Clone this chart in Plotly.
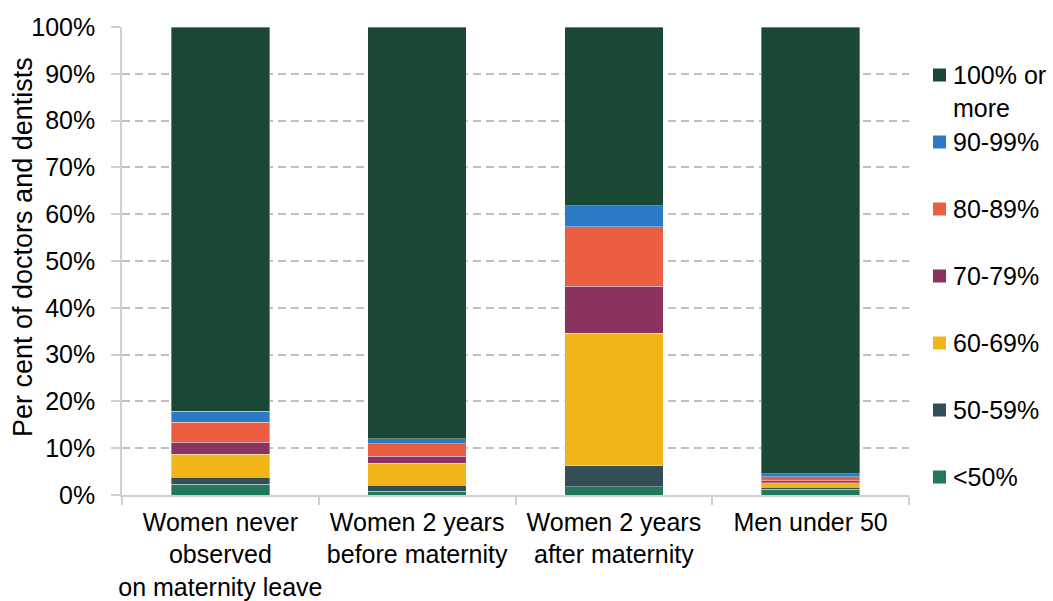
import plotly.graph_objects as go

# Groups on the x axis (line breaks as printed under each bar)
categories = [
    "Women never<br>observed<br>on maternity leave",
    "Women 2 years<br>before maternity",
    "Women 2 years<br>after maternity",
    "Men under 50",
]

# Share of doctors and dentists by hours band (per cent), stacked bottom to top
series_names = ["<50%", "50-59%", "60-69%", "70-79%", "80-89%", "90-99%", "100% or<br>more"]
below_50 = [2.3, 0.8, 1.8, 1.2]
band_50_59 = [1.5, 1.3, 4.4, 0.5]
band_60_69 = [4.9, 4.7, 28.4, 0.9]
band_70_79 = [2.6, 1.5, 10.0, 0.4]
band_80_89 = [4.2, 2.6, 12.7, 0.9]
band_90_99 = [2.4, 1.1, 4.5, 0.6]
full_or_more = [82.1, 88.0, 38.2, 95.5]

series_values = [below_50, band_50_59, band_60_69, band_70_79, band_80_89, band_90_99, full_or_more]
series_colors = ["#23775a", "#334e55", "#f1b519", "#8b325f", "#ec5e42", "#2a7ac8", "#1b4735"]

y_tick_values = [0, 10, 20, 30, 40, 50, 60, 70, 80, 90, 100]
y_tick_labels = ["0%", "10%", "20%", "30%", "40%", "50%", "60%", "70%", "80%", "90%", "100%"]
y_title = "Per cent of doctors and dentists"

FONT = "Liberation Sans, Arial, sans-serif"

fig = go.Figure()
for name, vals, col in zip(series_names, series_values, series_colors):
    fig.add_trace(go.Bar(
        x=categories,
        y=vals,
        name=name,
        marker=dict(color=col, line=dict(color="rgba(255,255,255,0.45)", width=0.8)),
        showlegend=False,
        hovertemplate="%{y:.1f}%<extra>" + name.replace("<br>", " ") + "</extra>",
    ))

# Plot area geometry (pixels) used for the side key and axis title
W, H = 1053, 601
L, R, T, B = 122, 144, 27, 106
pw, ph = W - L - R, H - T - B


def px_x(px):
    return (px - L) / pw


def px_y(py):
    return (H - B - py) / ph


# Side key: top entry first, evenly spaced (stack order reversed)
key_top = 75
key_step = 67
for i, (name, col) in enumerate(zip(series_names[::-1], series_colors[::-1])):
    cy = key_top + i * key_step
    fig.add_shape(
        type="rect", xref="paper", yref="paper",
        x0=px_x(933), x1=px_x(946), y0=px_y(cy - 6.5), y1=px_y(cy + 6.5),
        fillcolor=col, line=dict(width=0),
    )
    fig.add_annotation(
        xref="paper", yref="paper", x=px_x(951), y=px_y(cy - 16),
        xanchor="left", yanchor="top", align="left", showarrow=False,
        text=name, font=dict(family=FONT, size=25, color="#000000"),
    )

# Rotated y-axis title
fig.add_annotation(
    xref="paper", yref="paper", x=px_x(23), y=px_y(247),
    xanchor="center", yanchor="middle", textangle=-90, showarrow=False,
    text=y_title, font=dict(family=FONT, size=27, color="#000000"),
)

fig.update_layout(
    width=W, height=H,
    barmode="stack",
    bargap=0.5,
    plot_bgcolor="white",
    paper_bgcolor="white",
    margin=dict(l=L, r=R, t=T, b=B, pad=0),
    font=dict(family=FONT, size=25, color="#000000"),
    showlegend=False,
)

fig.update_xaxes(
    showline=True, linecolor="#d0d0d0", linewidth=1.5,
    ticks="outside", tickson="boundaries", ticklen=8, tickcolor="#d0d0d0", tickwidth=1.5,
    tickangle=0, automargin=False, ticklabelstandoff=4,
    tickfont=dict(family=FONT, size=25, color="#000000"),
    showgrid=False,
)

fig.update_yaxes(
    range=[0, 100], tickmode="array", tickvals=y_tick_values, ticktext=y_tick_labels,
    showline=True, linecolor="#d0d0d0", linewidth=1.5,
    ticks="outside", ticklen=9, tickcolor="#d0d0d0", tickwidth=1.5,
    ticklabelstandoff=11, automargin=False,
    tickfont=dict(family=FONT, size=25, color="#000000"),
    showgrid=True, gridcolor="#c0c0c0", gridwidth=1.5, griddash="8px,5px",
    zeroline=False,
)

fig.write_html("out.html")
